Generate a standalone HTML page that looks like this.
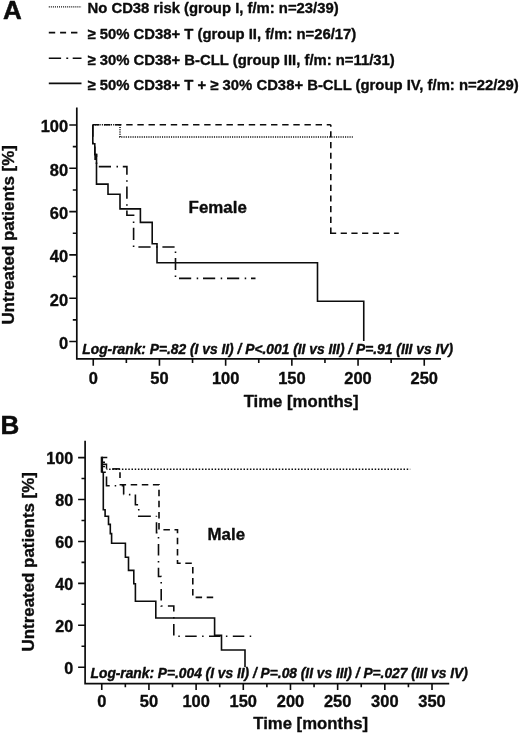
<!DOCTYPE html>
<html lang="en"><head><meta charset="utf-8"><title>Figure</title>
<style>
html,body{margin:0;padding:0;background:#fff;}
body{width:520px;height:735px;overflow:hidden;}
svg{display:block;will-change:transform;}
text{font-family:'Liberation Sans', Arial, Helvetica, sans-serif;font-weight:bold;fill:#0c0c0c;stroke:#0c0c0c;stroke-width:0.35px;stroke-linejoin:round;}
.ax{stroke:#0c0c0c;stroke-width:1.7;fill:none;stroke-linecap:butt;}
.tk{stroke:#0c0c0c;stroke-width:1.6;fill:none;}
.c{stroke:#0c0c0c;stroke-width:1.6;fill:none;stroke-linejoin:miter;}
.dash{stroke-dasharray:6.4 4.74;}
.ddA{stroke-dasharray:12.2 5.5 1.5 4.8;}
.ddB{stroke-dasharray:11.5 5.4 1.5 5.4;}
.dotA{stroke-dasharray:1.1 1.16;stroke-width:1.6;}
.dotB{stroke-dasharray:1.5 1.7;stroke-width:1.6;}
.lbl{font-size:16.45px;}
.ttl{font-size:16.5px;}
.lg{font-size:14.85px;}
.lr{font-size:13.8px;font-style:italic;stroke-width:0.4px;}
.pn{font-size:26px;stroke-width:0.5px;}
</style></head><body>
<svg width="520" height="735" viewBox="0 0 520 735">
<rect width="520" height="735" fill="#fff"/>
<text class="pn" x="2.9" y="19.2">A</text>
<line class="c" x1="48.8" y1="6.9" x2="81.5" y2="6.9" style="stroke-dasharray:1.02 1.02;stroke-width:1.4"/>
<text class="lg" x="87.5" y="13">No CD38 risk (group I, f/m: n=23/39)</text>
<line class="c" x1="48.8" y1="32.6" x2="77.4" y2="32.6" style="stroke-dasharray:6.4 4.9 6 4.9 6.4 9"/>
<text class="lg" x="87.5" y="38.75">≥ 50% CD38+ T (group II, f/m: n=26/17)</text>
<line class="c" x1="48.8" y1="58.2" x2="81.5" y2="58.2" style="stroke-dasharray:12.3 5.2 1.9 4.5 8.8 20"/>
<text class="lg" x="87.5" y="64.5">≥ 30% CD38+ B-CLL (group III, f/m: n=11/31)</text>
<line class="c" x1="48.8" y1="83.4" x2="81.5" y2="83.4" style="stroke-width:1.7"/>
<text class="lg" x="87.5" y="89.5">≥ 50% CD38+ T + ≥ 30% CD38+ B-CLL (group IV, f/m: n=22/29)</text>
<path class="ax" d="M76.8,107.5 V358.95 H441"/>
<path class="tk" d="M69.3,341.5H76.8M72.8,319.85H76.8M69.3,298.2H76.8M72.8,276.55H76.8M69.3,254.9H76.8M72.8,233.25H76.8M69.3,211.6H76.8M72.8,189.95H76.8M69.3,168.3H76.8M72.8,146.65H76.8M69.3,125H76.8M93.25,358.95V365.7M126.35,358.95V362.9M159.45,358.95V365.7M192.55,358.95V362.9M225.65,358.95V365.7M258.75,358.95V362.9M291.85,358.95V365.7M324.95,358.95V362.9M358.05,358.95V365.7M391.15,358.95V362.9M424.25,358.95V365.7"/>
<text class="lbl" text-anchor="end" x="68.1" y="348.8">0</text>
<text class="lbl" text-anchor="end" x="68.1" y="305.5">20</text>
<text class="lbl" text-anchor="end" x="68.1" y="262.2">40</text>
<text class="lbl" text-anchor="end" x="68.1" y="218.9">60</text>
<text class="lbl" text-anchor="end" x="68.1" y="175.6">80</text>
<text class="lbl" text-anchor="end" x="68.1" y="132.3">100</text>
<text class="lbl" text-anchor="middle" x="93.25" y="383.9">0</text>
<text class="lbl" text-anchor="middle" x="159.45" y="383.9">50</text>
<text class="lbl" text-anchor="middle" x="225.65" y="383.9">100</text>
<text class="lbl" text-anchor="middle" x="291.85" y="383.9">150</text>
<text class="lbl" text-anchor="middle" x="358.05" y="383.9">200</text>
<text class="lbl" text-anchor="middle" x="424.25" y="383.9">250</text>
<text class="ttl" x="243.7" y="406.7" style="font-size:16.72px">Time [months]</text>
<text class="ttl" transform="translate(14.4,324.6) rotate(-90)" style="font-size:16.92px">Untreated patients [%]</text>
<text class="ttl" x="188.6" y="212.6" style="font-size:16.9px">Female</text>
<text class="lr" x="82.3" y="353.75">Log-rank: P=.82 (I vs II) / P&lt;.001 (II vs III) / P=.91 (III vs IV)</text>
<path class="c dotA" d="M92.8,124.8 H120 V137 H352.8"/>
<path class="c dash" d="M92.8,124.8 H330.8"/>
<path class="c" style="stroke-dasharray:6.2 4.49;stroke-dashoffset:4.24" d="M330.8,124.8 V233.2"/>
<path class="c" style="stroke-dasharray:6.2 4.49" d="M330,233.2 H398.75"/>
<path class="c ddA" style="stroke-dashoffset:0.2" d="M92.8,124.8 V143.8 H94.8 V154.5 H96.5 V166.6 H126.9 V215.2 H133.6 V247 H175.5 V278.4 H255.5"/>
<path class="c" d="M92.8,124.8 V143.8 H94.8 V154.5 H96.5 V184.1 H108 V194.3 H120 V208.9 H140.4 V222.4 H152.2 V243.75 H157 V262.8 H317.5 V301.25 H363.75 V341"/>
<path class="c" style="stroke-width:2.6" d="M95.6,154.5 V160"/>
<text class="pn" x="0.5" y="433.6">B</text>
<path class="ax" d="M85.1,440.8 V683.55 H449.2"/>
<path class="tk" d="M78.1,667.2H85.1M81.5,646.24H85.1M78.1,625.28H85.1M81.5,604.32H85.1M78.1,583.36H85.1M81.5,562.4H85.1M78.1,541.44H85.1M81.5,520.48H85.1M78.1,499.52H85.1M81.5,478.56H85.1M78.1,457.6H85.1M101.75,683.55V690M125.34,683.55V687.3M148.93,683.55V690M172.52,683.55V687.3M196.11,683.55V690M219.7,683.55V687.3M243.29,683.55V690M266.88,683.55V687.3M290.47,683.55V690M314.06,683.55V687.3M337.65,683.55V690M361.24,683.55V687.3M384.83,683.55V690M408.42,683.55V687.3M432.01,683.55V690"/>
<text class="lbl" text-anchor="end" x="73.3" y="673.8" style="font-size:16.15px">0</text>
<text class="lbl" text-anchor="end" x="73.3" y="631.88" style="font-size:16.15px">20</text>
<text class="lbl" text-anchor="end" x="73.3" y="589.96" style="font-size:16.15px">40</text>
<text class="lbl" text-anchor="end" x="73.3" y="548.04" style="font-size:16.15px">60</text>
<text class="lbl" text-anchor="end" x="73.3" y="506.12" style="font-size:16.15px">80</text>
<text class="lbl" text-anchor="end" x="73.3" y="464.2" style="font-size:16.15px">100</text>
<text class="lbl" text-anchor="middle" x="101.75" y="707.4">0</text>
<text class="lbl" text-anchor="middle" x="148.93" y="707.4">50</text>
<text class="lbl" text-anchor="middle" x="196.11" y="707.4">100</text>
<text class="lbl" text-anchor="middle" x="243.29" y="707.4">150</text>
<text class="lbl" text-anchor="middle" x="290.47" y="707.4">200</text>
<text class="lbl" text-anchor="middle" x="337.65" y="707.4">250</text>
<text class="lbl" text-anchor="middle" x="384.83" y="707.4">300</text>
<text class="lbl" text-anchor="middle" x="432.01" y="707.4">350</text>
<text class="ttl" x="253.3" y="729.3" style="font-size:16.72px">Time [months]</text>
<text class="ttl" transform="translate(33.7,651.5) rotate(-90)" style="font-size:16.92px">Untreated patients [%]</text>
<text class="ttl" x="207.6" y="540.2" style="font-size:16.85px">Male</text>
<text class="lr" x="90.6" y="677.8" style="font-size:13.75px">Log-rank: P=.004 (I vs II) / P=.08 (II vs III) / P=.027 (III vs IV)</text>
<path class="c" style="stroke-width:2.4" d="M101.9,456.7 V472.6"/>
<path class="c" style="stroke-width:1.5" d="M101.5,457.5 H107.3 M101.5,462.3 H105 M101.5,464.2 H106.5 V468.8 M101.5,466.5 H105 M101.5,472.3 H105.8"/>
<path class="c dotB" style="stroke-dashoffset:0.6" d="M106.5,469.2 H410.2"/>
<path class="c" d="M112.3,468.9 H119.8"/>
<path class="c" d="M120,472.3 V478"/>
<path class="c dash" style="stroke-dasharray:6.5 4.6" d="M119.6,484.7 H159 V529.7 H177.5 V563.3 H192.8 V597.4 H213.4"/>
<path class="c" style="stroke-dasharray:12.5 5 1.5 5.5;stroke-dashoffset:20.5" d="M106.5,472.5 V485.8 H123.65 V494.6"/>
<path class="c" style="stroke-dasharray:12.8 5 1.5 5;stroke-dashoffset:12.55" d="M123.65,494.6 H135.4 V504.7 H138.75 V516.25 H156.5"/>
<path class="c ddB" style="stroke-dashoffset:17.85" d="M156.5,516.25 V532.7 H158.5 V576.5 H161.2 V606 H173.8 V636.3 H252.7"/>
<path class="c" d="M103.3,472 V509.8 H105.1 V516.25 H108.5 V524.4 H110.3 V533.6 H111.6 V543.2 H125.4 V557.3 H128.5 V570.4 H133.8 V583.8 H135.4 V601.2 H155.8 V618 H214.6 V635.2 H221.5 V650 H245 V667"/>
</svg></body></html>
